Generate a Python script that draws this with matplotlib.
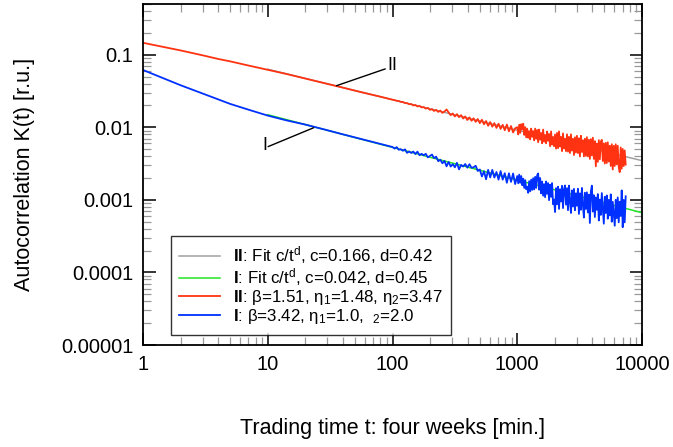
import numpy as np
import matplotlib
matplotlib.use("Agg")
import matplotlib.pyplot as plt
from matplotlib.ticker import FixedLocator, LogLocator, NullFormatter

plt.rcParams['font.family'] = ['Liberation Sans', 'DejaVu Sans']
plt.rcParams['mathtext.fontset'] = 'custom'
plt.rcParams['mathtext.rm'] = 'Liberation Sans'
plt.rcParams['mathtext.it'] = 'Liberation Sans:italic'
plt.rcParams['mathtext.bf'] = 'Liberation Sans:bold'

# --- data ---
# early, smooth part of both autocorrelations (t in minutes)
t_early = [1, 1.5, 2, 3, 4, 5, 7, 10, 14, 20, 28, 40, 56, 80]
K_II_early = [0.146, 0.1265, 0.1146, 0.0982, 0.0875, 0.0810, 0.0710, 0.0620,
              0.0545, 0.0470, 0.0408, 0.0352, 0.0305, 0.0264]
K_I_early = [0.0616, 0.0465, 0.0380, 0.0292, 0.0242, 0.0210, 0.0175, 0.0145,
             0.0125, 0.0109, 0.0094, 0.0080, 0.0069, 0.0059]

# t = 100 ... 1000, samples evenly spaced on the log axis
K_II_mid = [0.0240, 0.0237, 0.0232, 0.0230, 0.0224, 0.0223, 0.0216, 0.0215, 0.0208, 0.0209,
            0.0200, 0.0203, 0.0194, 0.0197, 0.0188, 0.0190, 0.0181, 0.0185, 0.0174, 0.0178,
            0.0168, 0.0174, 0.0163, 0.0170, 0.0158, 0.0165, 0.0176, 0.0160, 0.0147, 0.0155,
            0.0141, 0.0152, 0.0138, 0.0147, 0.0132, 0.0141, 0.0126, 0.0137, 0.0123, 0.0133,
            0.0119, 0.0130, 0.0114, 0.0127, 0.0110, 0.0122, 0.0105, 0.0118, 0.0102, 0.0114,
            0.0098, 0.0112, 0.0095, 0.0108, 0.0091, 0.0109, 0.0088, 0.0104, 0.0085, 0.0097]
K_I_mid = [0.00535, 0.00509, 0.00533, 0.00491, 0.00499, 0.00475, 0.00497, 0.00444, 0.00465, 0.00443,
           0.00463, 0.00427, 0.00462, 0.00412, 0.00431, 0.00411, 0.00431, 0.00385, 0.00403, 0.00421,
           0.00376, 0.00394, 0.00341, 0.00357, 0.00319, 0.00345, 0.00290, 0.00333, 0.00288, 0.00311,
           0.00281, 0.00324, 0.00263, 0.00303, 0.00288, 0.00312, 0.00278, 0.00310, 0.00277, 0.00281,
           0.00295, 0.00250, 0.00262, 0.00210, 0.00248, 0.00192, 0.00259, 0.00204, 0.00259, 0.00203,
           0.00242, 0.00190, 0.00249, 0.00190, 0.00233, 0.00172, 0.00232, 0.00177, 0.00231, 0.00165]

# t = 1000 ... 7400, samples evenly spaced on the log axis
K_II_late = [0.01003, 0.00797, 0.01086, 0.00837, 0.01103, 0.00934, 0.01122, 0.00785, 0.01004, 0.00727,
             0.00958, 0.00716, 0.00885, 0.00682, 0.00959, 0.00738, 0.00887, 0.00662, 0.00960, 0.00694,
             0.00916, 0.00622, 0.00931, 0.00673, 0.00834, 0.00602, 0.00931, 0.00633, 0.00783, 0.00603,
             0.00875, 0.00653, 0.00809, 0.00549, 0.00876, 0.00576, 0.00736, 0.00549, 0.00796, 0.00508,
             0.00836, 0.00516, 0.00878, 0.00542, 0.00738, 0.00470, 0.00824, 0.00509, 0.00693, 0.00470,
             0.00799, 0.00462, 0.00739, 0.00442, 0.00799, 0.00478, 0.00693, 0.00415, 0.00728, 0.00449,
             0.00763, 0.00442, 0.00705, 0.00396, 0.00764, 0.00457, 0.00663, 0.00397, 0.00696, 0.00403,
             0.00730, 0.00397, 0.00675, 0.00367, 0.00686, 0.00410, 0.00719, 0.00367,
             0.00644, 0.00290, 0.00595, 0.00334, 0.00665, 0.00362, 0.00634, 0.00671, 0.00343, 0.00600,
             0.00317, 0.00610,
             0.00322, 0.00620, 0.00338, 0.00555, 0.00293, 0.00584, 0.00262, 0.00556, 0.00293, 0.00583,
             0.00308, 0.00557, 0.00285, 0.00241, 0.00527, 0.00269, 0.00503, 0.00292, 0.00480, 0.00306]
K_I_late = [0.00213, 0.00169, 0.00223, 0.00172, 0.00213, 0.00159, 0.00196, 0.00146, 0.00187, 0.00140,
            0.00152, 0.00125, 0.00181, 0.00131, 0.00190, 0.00137, 0.00199, 0.00139, 0.00208, 0.00146,
            0.00218, 0.00231, 0.00138, 0.00200, 0.00123, 0.00179, 0.00114, 0.00165, 0.00109, 0.00179,
            0.00121, 0.00170, 0.00099, 0.00162, 0.00110, 0.00170, 0.00087, 0.00101, 0.00068, 0.00145,
            0.00087, 0.00152, 0.00075, 0.00140, 0.00095, 0.00156, 0.00077, 0.00140, 0.00158, 0.00086,
            0.00145, 0.00072, 0.00157, 0.00094, 0.00066, 0.00135, 0.00081, 0.00142, 0.00072, 0.00123,
            0.00083, 0.00142, 0.00064, 0.00123, 0.00073, 0.00146, 0.00084, 0.00057, 0.00125, 0.00075,
            0.00127, 0.00067, 0.00118, 0.00048, 0.00131, 0.00157, 0.00069, 0.00116, 0.00058, 0.00108,
            0.00073, 0.00120, 0.00052, 0.00101, 0.00062, 0.00124, 0.00076, 0.00047, 0.00110, 0.00066,
            0.00115, 0.00055, 0.00100, 0.00061, 0.00119, 0.00050, 0.00094, 0.00065, 0.00044, 0.00100,
            0.00056, 0.00108, 0.00049, 0.00094, 0.00060, 0.00135, 0.00042, 0.00100, 0.00049, 0.00112]

# power-law fits c/t^d (end points)
t_fit = [10, 10000]
fit_II = [0.0631, 0.00347]   # c=0.166, d=0.42
fit_I = [0.0149, 0.000665]   # c=0.042, d=0.45

labels = [r"$\mathbf{II}$: Fit c/t$^{\mathrm{d}}$, c=0.166, d=0.42",
          r"$\mathbf{I}$: Fit c/t$^{\mathrm{d}}$, c=0.042, d=0.45",
          r"$\mathbf{II}$: β=1.51, η$_{\mathrm{1}}$=1.48, η$_{\mathrm{2}}$=3.47",
          r"$\mathbf{I}$: β=3.42, η$_{\mathrm{1}}$=1.0,  $_{\mathrm{2}}$=2.0"]

xticks = [1, 10, 100, 1000, 10000]
xticklabels = ['1', '10', '100', '1000', '10000']
yticks = [1e-5, 1e-4, 1e-3, 1e-2, 1e-1]
yticklabels = ['0.00001', '0.0001', '0.001', '0.01', '0.1']

t_mid = np.geomspace(100, 1000, len(K_II_mid), endpoint=False)
t_late = np.geomspace(1000, 7400, len(K_II_late))
t_all = np.concatenate([t_early, t_mid, t_late])
K_II = np.concatenate([K_II_early, K_II_mid, K_II_late])
K_I = np.concatenate([K_I_early, K_I_mid, K_I_late])

fig = plt.figure(figsize=(6.73, 4.47), dpi=100)
ax = fig.add_axes([143/673, 102/447, 499/673, 341/447])

ax.plot(t_fit, fit_II, color='#a0a0a0', lw=1.1, label=labels[0])
ax.plot(t_fit, fit_I, color='#22e622', lw=1.1, label=labels[1])
ax.plot(t_all, K_II, color='#ff3311', lw=1.3, label=labels[2])
ax.plot(t_all, K_I, color='#0030ff', lw=1.3, label=labels[3])

ax.set_xscale('log')
ax.set_yscale('log')
ax.set_xlim(1, 10000)
ax.set_ylim(1e-5, 0.5)

ax.xaxis.set_major_locator(FixedLocator(xticks))
ax.set_xticklabels(xticklabels)
ax.yaxis.set_major_locator(FixedLocator(yticks))
ax.set_yticklabels(yticklabels)
for a in (ax.xaxis, ax.yaxis):
    a.set_minor_locator(LogLocator(base=10, subs=np.arange(2, 10), numticks=20))
    a.set_minor_formatter(NullFormatter())

ax.tick_params(which='both', direction='in', top=True, right=True)
ax.tick_params(which='major', length=9, width=1.1, color='black',
               labelsize=14.5, pad=7)
ax.tick_params(which='minor', length=5.5, width=0.9, color='#999999')
for s in ax.spines.values():
    s.set_linewidth(1.3)

ax.set_xlabel('Trading time t: four weeks [min.]', fontsize=15.5, labelpad=32)
ax.set_ylabel('Autocorrelation K(t) [r.u.]', fontsize=15.5, labelpad=19)

# curve markers
ax.plot([35.7, 87.1], [0.0375, 0.0636], color='black', lw=1.0)
ax.text(91, 0.0705, 'II', fontsize=13, ha='left', va='center')
ax.plot([23.2, 10.1], [0.00982, 0.00543], color='black', lw=1.0)
ax.text(10.0, 0.0056, 'I', fontsize=13, ha='right', va='center')

leg = ax.legend(loc='upper left', bbox_to_anchor=(0.056, 0.320), borderaxespad=0,
                fontsize=12.2, frameon=True, fancybox=False, edgecolor='black',
                handlelength=2.4, handletextpad=0.75, labelspacing=0.0,
                borderpad=0.5)
leg.get_frame().set_linewidth(1.0)

fig.savefig('out.png', dpi=100)
